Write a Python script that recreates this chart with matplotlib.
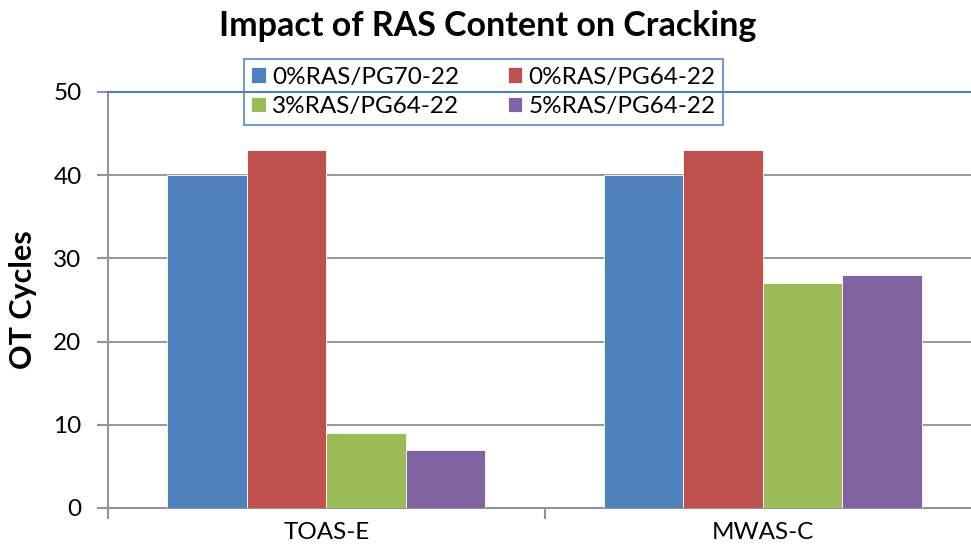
import numpy as np
import matplotlib.pyplot as plt

plt.rcParams['font.family'] = ['Lato', 'DejaVu Sans']

categories = ['TOAS-E', 'MWAS-C']
series = ['0%RAS/PG70-22', '0%RAS/PG64-22', '3%RAS/PG64-22', '5%RAS/PG64-22']
values = [
    [40, 40],
    [43, 43],
    [9, 27],
    [7, 28],
]
colors = ['#4F81BD', '#C0504D', '#9BBB59', '#8064A2']

fig = plt.figure(figsize=(9.71, 5.54), dpi=100)
ax = fig.add_axes([108/971, 46/554, 873/971, 416/554])

x = np.arange(len(categories))
w = 0.182
bars = []
for i, (s, v, c) in enumerate(zip(series, values, colors)):
    b = ax.bar(x + (i - 1.5) * w, v, w, color=c, label=s,
               edgecolor='white', linewidth=0.6, zorder=3)
    bars.append(b)

ax.set_xlim(-0.5, 1.5)
ax.set_ylim(0, 50)
ax.set_yticks(range(0, 51, 10))
ax.yaxis.grid(True, color='#868686', linewidth=1.2, zorder=0)
ax.axhline(50, color='#4F81BD', linewidth=1.5, zorder=10, clip_on=False)

for sp in ['top', 'right']:
    ax.spines[sp].set_visible(False)
for sp in ['left', 'bottom']:
    ax.spines[sp].set_color('#8C959E')
    ax.spines[sp].set_linewidth(1.5)

ax.set_xticks(x)
ax.set_xticklabels(categories, fontsize=17.5)
ax.tick_params(axis='x', length=0, pad=10)
ax.set_xticks([-0.5, 0.5, 1.5], minor=True)
ax.tick_params(axis='x', which='minor', length=8, color='#8C959E', width=1.5)
ax.tick_params(axis='y', length=8, color='#8C959E', width=1.5, labelsize=17.5, pad=11)

ax.set_ylabel('OT Cycles', fontsize=22, fontweight='bold')
ax.yaxis.set_label_coords(-0.081, 0.5)
fig.text((218 + 758) / 2 / 971, 1 - 26/554, 'Impact of RAS Content on Cracking',
         ha='center', va='center', fontsize=24.5, fontweight='bold')

order = [0, 2, 1, 3]
leg = ax.legend([bars[i] for i in order], [series[i] for i in order], ncol=2,
                loc='center', bbox_to_anchor=((237 + 730) / 2 / 971, 1 - 92/554),
                bbox_transform=fig.transFigure, frameon=True, fancybox=False,
                edgecolor='#4F81BD', fontsize=17.5, handlelength=0.6,
                handleheight=0.6, handletextpad=0.25, columnspacing=2.0,
                borderpad=0.3, labelspacing=0.35)
leg.get_frame().set_linewidth(1.5)
leg.set_zorder(5)

fig.savefig('out.png', dpi=100)
